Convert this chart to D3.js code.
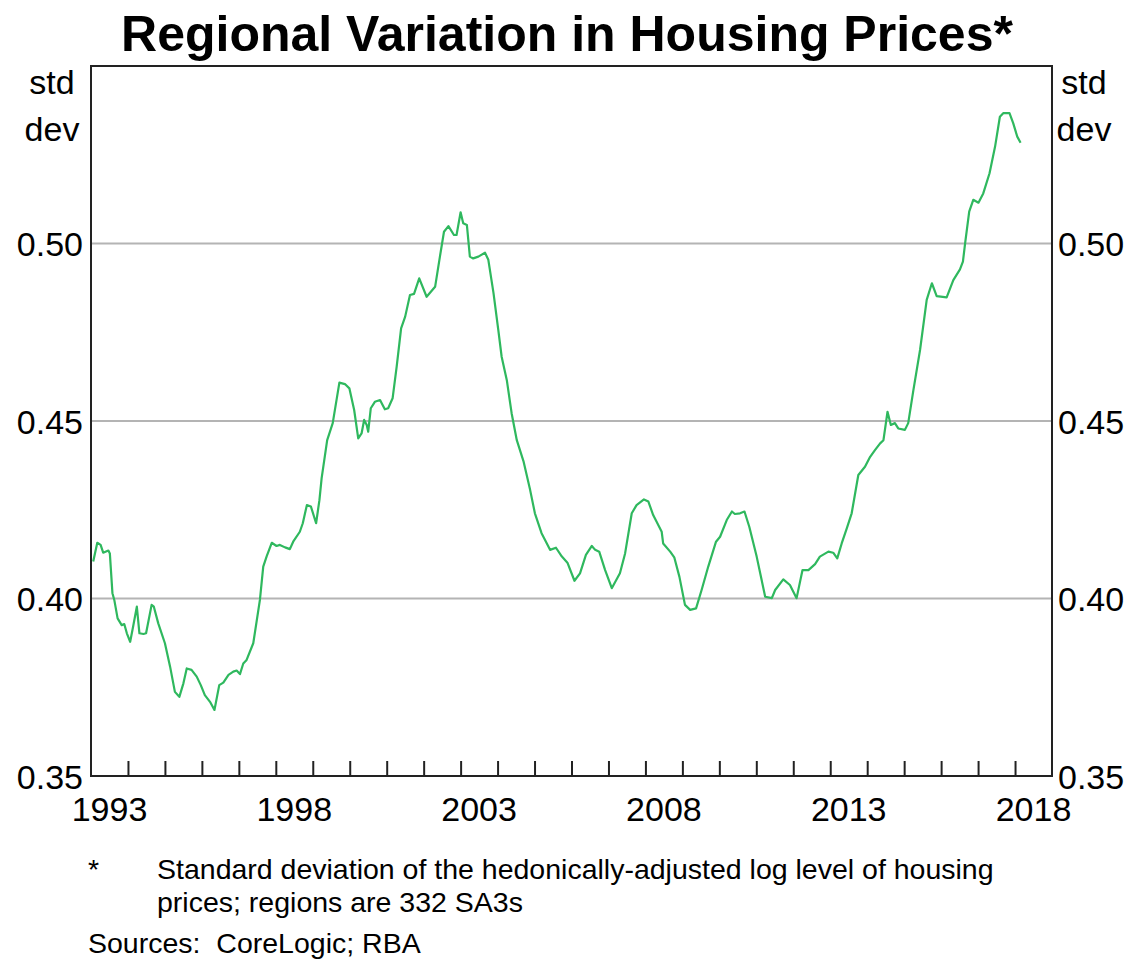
<!DOCTYPE html>
<html>
<head>
<meta charset="utf-8">
<style type="text/css">
html, body{
	padding: 0;
	margin: 0;
	background: white;
}
text{
	font-family: "Liberation Sans", Arial, sans-serif;
	fill: black;
}
</style>
</head>
<body>
<svg width=1129 height=960></svg>

<script src="https://cdn.jsdelivr.net/npm/d3@7"></script>
<script type="text/javascript">
	// decimal year of each traced point, and std dev of log housing prices
	var dates = [1993.06,1993.17,1993.26,1993.33,1993.47,1993.51,1993.58,1993.63,1993.72,1993.83,1993.90,1993.97,
		1994.06,1994.14,1994.24,1994.31,1994.42,1994.49,1994.64,1994.70,1994.82,1995.00,1995.14,1995.27,1995.39,
		1995.50,1995.59,1995.72,1995.86,1995.97,1996.08,1996.22,1996.34,1996.47,1996.58,1996.72,1996.85,1996.94,
		1997.03,1997.12,1997.21,1997.39,1997.57,1997.66,1997.75,1997.89,1998.02,1998.11,1998.25,1998.38,1998.47,
		1998.65,1998.73,1998.84,1998.95,1999.09,1999.18,1999.24,1999.39,1999.54,1999.72,1999.87,1999.99,2000.12,
		2000.23,2000.32,2000.39,2000.46,2000.50,2000.57,2000.68,2000.82,2000.95,2001.04,2001.16,2001.27,2001.39,
		2001.50,2001.63,2001.74,2001.88,2002.08,2002.31,2002.44,2002.55,2002.67,2002.82,2002.89,2003.00,2003.07,
		2003.17,2003.25,2003.34,2003.48,2003.66,2003.75,2003.89,2004.02,2004.11,2004.25,2004.38,2004.52,2004.70,
		2004.88,2005.01,2005.19,2005.42,2005.58,2005.74,2005.89,2006.08,2006.23,2006.39,2006.55,2006.64,2006.75,
		2006.91,2007.09,2007.31,2007.45,2007.63,2007.76,2007.96,2008.08,2008.21,2008.44,2008.48,2008.67,2008.78,
		2008.92,2009.07,2009.21,2009.37,2009.52,2009.70,2009.91,2010.02,2010.20,2010.34,2010.42,2010.56,2010.68,
		2010.81,2011.01,2011.24,2011.42,2011.51,2011.73,2011.91,2012.09,2012.25,2012.41,2012.59,2012.72,2012.95,
		2013.08,2013.19,2013.31,2013.45,2013.58,2013.76,2013.94,2014.08,2014.21,2014.35,2014.44,2014.55,2014.64,
		2014.75,2014.84,2015.02,2015.11,2015.25,2015.43,2015.61,2015.75,2015.88,2016.15,2016.33,2016.51,2016.59,
		2016.65,2016.76,2016.87,2017.01,2017.14,2017.31,2017.46,2017.59,2017.68,2017.85,2017.95,2018.06,2018.15];
	var stdDev = [0.4104,0.4157,0.4151,0.4129,0.4135,0.4127,0.4015,0.3996,0.3944,0.3925,0.3928,0.3902,
		0.3878,0.3921,0.3977,0.3902,0.3900,0.3902,0.3982,0.3977,0.3930,0.3874,0.3808,0.3737,0.3723,
		0.3761,0.3803,0.3799,0.3780,0.3756,0.3728,0.3709,0.3686,0.3756,0.3763,0.3785,0.3794,0.3797,
		0.3787,0.3817,0.3827,0.3874,0.3996,0.4090,0.4118,0.4157,0.4148,0.4151,0.4144,0.4139,0.4160,
		0.4188,0.4212,0.4263,0.4259,0.4212,0.4277,0.4339,0.4446,0.4494,0.4608,0.4604,0.4592,0.4531,
		0.4451,0.4465,0.4503,0.4489,0.4470,0.4536,0.4554,0.4559,0.4533,0.4536,0.4564,0.4653,0.4761,
		0.4794,0.4855,0.4858,0.4902,0.4850,0.4878,0.4963,0.5033,0.5049,0.5024,0.5024,0.5088,0.5057,
		0.5052,0.4963,0.4958,0.4963,0.4974,0.4954,0.4860,0.4756,0.4681,0.4615,0.4522,0.4446,0.4387,
		0.4306,0.4240,0.4184,0.4137,0.4143,0.4118,0.4101,0.4050,0.4071,0.4123,0.4148,0.4137,0.4132,
		0.4080,0.4029,0.4071,0.4127,0.4240,0.4263,0.4279,0.4273,0.4235,0.4188,0.4155,0.4132,0.4116,
		0.4061,0.3982,0.3968,0.3972,0.4024,0.4090,0.4160,0.4174,0.4221,0.4245,0.4238,0.4240,0.4245,
		0.4202,0.4118,0.4005,0.4001,0.4024,0.4054,0.4038,0.4001,0.4080,0.4080,0.4097,0.4118,0.4132,
		0.4129,0.4113,0.4155,0.4198,0.4240,0.4348,0.4371,0.4399,0.4418,0.4437,0.4446,0.4526,0.4489,
		0.4494,0.4479,0.4475,0.4494,0.4587,0.4700,0.4841,0.4888,0.4852,0.4848,0.4897,0.4927,0.4949,
		0.5001,0.5090,0.5123,0.5115,0.5141,0.5198,0.5273,0.5357,0.5367,0.5367,0.5339,0.5301,0.5284];

	var yearLabels = [1993,1998,2003,2008,2013,2018];
	var yTicks = [0.35,0.40,0.45,0.50];

	data = dates.map((d,p)=>{return{t:d,v:stdDev[p]}})

	var pLeft = 91, pRight = 1052, pTop = 66, pBottom = 776;
	var x = d3.scaleLinear().domain([1993,2019]).range([pLeft,pRight]);
	var y = d3.scaleLinear().domain([0.35,0.55]).range([pBottom,pTop]);

	svg = d3.select('svg')

	// title
	svg.append('text')
		.attr('x',567).attr('y',51)
		.attr('text-anchor','middle')
		.style('font-size','50px').style('font-weight','bold')
		.text('Regional Variation in Housing Prices*')

	// gridlines
	svg.append('g').selectAll('line')
		.data(yTicks.filter(d=>d>0.35))
		.enter().append('line')
		.attr('x1',pLeft).attr('x2',pRight)
		.attr('y1',d=>y(d)).attr('y2',d=>y(d))
		.style('stroke','#b4b4b4').style('stroke-width',2)

	// left and right tick labels
	var fmt = d3.format('.2f')
	svg.append('g').attr('transform','translate('+(pLeft-8)+',0)')
		.call(d3.axisLeft(y).tickValues(yTicks).tickSize(0).tickPadding(0).tickFormat(fmt))
		.call(g=>g.select('.domain').remove())
		.call(g=>g.selectAll('text').style('font-size','34px').style('font-family','"Liberation Sans", Arial, sans-serif').attr('dy','0.36em'))
	svg.append('g').attr('transform','translate('+(pRight+6)+',0)')
		.call(d3.axisRight(y).tickValues(yTicks).tickSize(0).tickPadding(0).tickFormat(fmt))
		.call(g=>g.select('.domain').remove())
		.call(g=>g.selectAll('text').style('font-size','34px').style('font-family','"Liberation Sans", Arial, sans-serif').attr('dy','0.36em'))

	// units
	;[52,1084].forEach(ux=>{
		svg.append('text').attr('x',ux).attr('y',94).attr('text-anchor','middle').style('font-size','34px').text('std')
		svg.append('text').attr('x',ux).attr('y',141).attr('text-anchor','middle').style('font-size','34px').text('dev')
	})

	// year ticks on the bottom axis, pointing inward
	var yearTicks = d3.range(1994,2019)
	svg.append('g').attr('transform','translate(0,'+pBottom+')')
		.call(d3.axisTop(x).tickValues(yearTicks).tickSize(15).tickFormat(''))
		.call(g=>g.select('.domain').remove())
		.call(g=>g.selectAll('line').style('stroke','#222').style('stroke-width',2))

	svg.append('g').selectAll('text.year')
		.data(yearLabels)
		.enter().append('text')
		.attr('class','year')
		.attr('x',d=>x(d+0.5))
		.attr('y',821)
		.attr('text-anchor','middle')
		.style('font-size','34px')
		.text(d=>d)

	// line
	var line = d3.line().x(d=>x(d.t)).y(d=>y(d.v))
	svg.append('path')
		.datum(data)
		.attr('d',line)
		.style('fill','none')
		.style('stroke','#2fb85e')
		.style('stroke-width',2.2)
		.style('stroke-linejoin','round')

	// frame
	svg.append('rect')
		.attr('x',pLeft).attr('y',pTop)
		.attr('width',pRight-pLeft).attr('height',pBottom-pTop)
		.style('fill','none').style('stroke','#222').style('stroke-width',2)

	// notes
	svg.append('text').attr('x',88).attr('y',879).style('font-size','28.5px').text('*')
	svg.append('text').attr('x',157).attr('y',879).style('font-size','28.5px')
		.text('Standard deviation of the hedonically-adjusted log level of housing')
	svg.append('text').attr('x',157).attr('y',912).style('font-size','28.5px')
		.text('prices; regions are 332 SA3s')
	svg.append('text').attr('x',88).attr('y',953).style('font-size','28.5px')
		.attr('xml:space','preserve')
		.text('Sources:  CoreLogic; RBA')
</script>
</body>
</html>
